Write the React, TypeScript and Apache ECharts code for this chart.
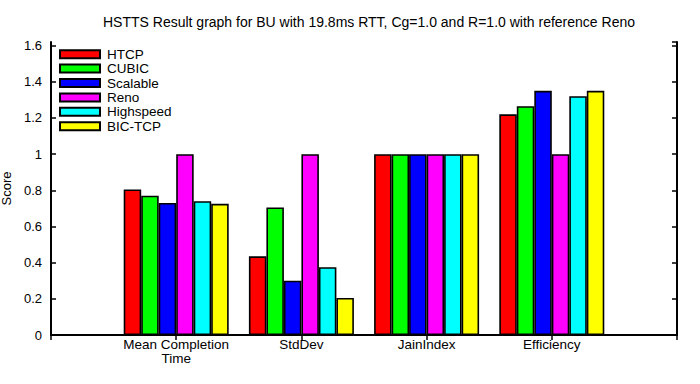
import React, { useEffect, useRef } from "react";
import * as echarts from "echarts";

const categories = ["", "Mean Completion\nTime", "StdDev", "JainIndex", "Efficiency", ""];
const seriesNames = ["HTCP", "CUBIC", "Scalable", "Reno", "Highspeed", "BIC-TCP"];
const colors = ["#ff0000", "#00ff00", "#0000ff", "#ff00ff", "#00ffff", "#ffff00"];
const htcp = [null, 0.805, 0.435, 1.0, 1.22, null];
const cubic = [null, 0.77, 0.705, 1.0, 1.265, null];
const scalable = [null, 0.73, 0.3, 1.0, 1.35, null];
const reno = [null, 1.0, 1.0, 1.0, 1.0, null];
const highspeed = [null, 0.74, 0.375, 1.0, 1.32, null];
const bictcp = [null, 0.725, 0.205, 1.0, 1.35, null];
const values = [htcp, cubic, scalable, reno, highspeed, bictcp];

const FONT = "Liberation Sans";

export default function App() {
  const ref = useRef<HTMLDivElement>(null);
  useEffect(() => {
    if (!ref.current) return;
    const chart = echarts.init(ref.current, null, { renderer: "svg" });
    const lineStyle = { color: "#000", width: 2 };
    chart.setOption({
      animation: false,
      backgroundColor: "#fff",
      title: {
        text: "HSTTS Result graph for BU with 19.8ms RTT, Cg=1.0 and R=1.0 with reference Reno",
        left: 364,
        textAlign: "center",
        top: 10,
        textStyle: { fontFamily: FONT, fontSize: 14, fontWeight: "normal", color: "#000" },
      },
      legend: {
        orient: "vertical",
        left: 59,
        top: 47,
        padding: 0,
        itemWidth: 40,
        itemHeight: 8,
        itemGap: 0,
        icon: "rect",
        textStyle: { fontFamily: FONT, fontSize: 13.5, lineHeight: 14.4, color: "#000", padding: [0, 0, 0, 2] },
        data: seriesNames,
      },
      grid: { left: 51, right: 23, top: 42, bottom: 49, containLabel: false, outerBoundsMode: "none" },
      xAxis: [
        {
          type: "category",
          data: categories,
          boundaryGap: false,
          position: "bottom",
          axisLine: { lineStyle },
          axisTick: { show: false },
          axisLabel: {
            fontFamily: FONT,
            fontSize: 13.5,
            color: "#000",
            margin: 2,
            lineHeight: 14,
            interval: 0,
          },
          splitLine: { show: false },
        },
        {
          type: "category",
          data: categories,
          boundaryGap: false,
          position: "top",
          axisLine: { lineStyle },
          axisTick: { show: true, inside: true, length: 5, lineStyle: { color: "#000", width: 1.5 } },
          axisLabel: { show: false },
          splitLine: { show: false },
        },
      ],
      yAxis: [
        {
          type: "value",
          min: 0,
          max: 1.62,
          interval: 0.2,
          position: "left",
          name: "Score",
          nameLocation: "middle",
          nameGap: 37,
          nameRotate: 90,
          nameTextStyle: { fontFamily: FONT, fontSize: 13, color: "#000" },
          axisLine: { show: true, lineStyle },
          axisTick: { show: true, inside: true, length: 5, lineStyle: { color: "#000", width: 1.5 } },
          axisLabel: {
            fontFamily: FONT,
            fontSize: 13,
            color: "#000",
            margin: 9,
            showMaxLabel: false,
            formatter: (v: number) => String(Math.round(v * 10) / 10),
          },
          splitLine: { show: false },
        },
        {
          type: "value",
          min: 0,
          max: 1.62,
          interval: 0.2,
          position: "right",
          axisLine: { show: true, lineStyle },
          axisTick: { show: true, inside: true, length: 5, lineStyle: { color: "#000", width: 1.5 } },
          axisLabel: { show: false },
          splitLine: { show: false },
        },
      ],
      series: seriesNames.map((name, i) => ({
        name,
        type: "bar",
        xAxisIndex: 0,
        yAxisIndex: 0,
        data: values[i],
        barWidth: 17.5,
        barGap: "0%",
        itemStyle: { color: colors[i], borderColor: "#000", borderWidth: 1.6 },
      })),
    });
    return () => chart.dispose();
  }, []);
  return <div ref={ref} style={{ width: 700, height: 384, position: "absolute", left: 0, top: 0 }} />;
}
